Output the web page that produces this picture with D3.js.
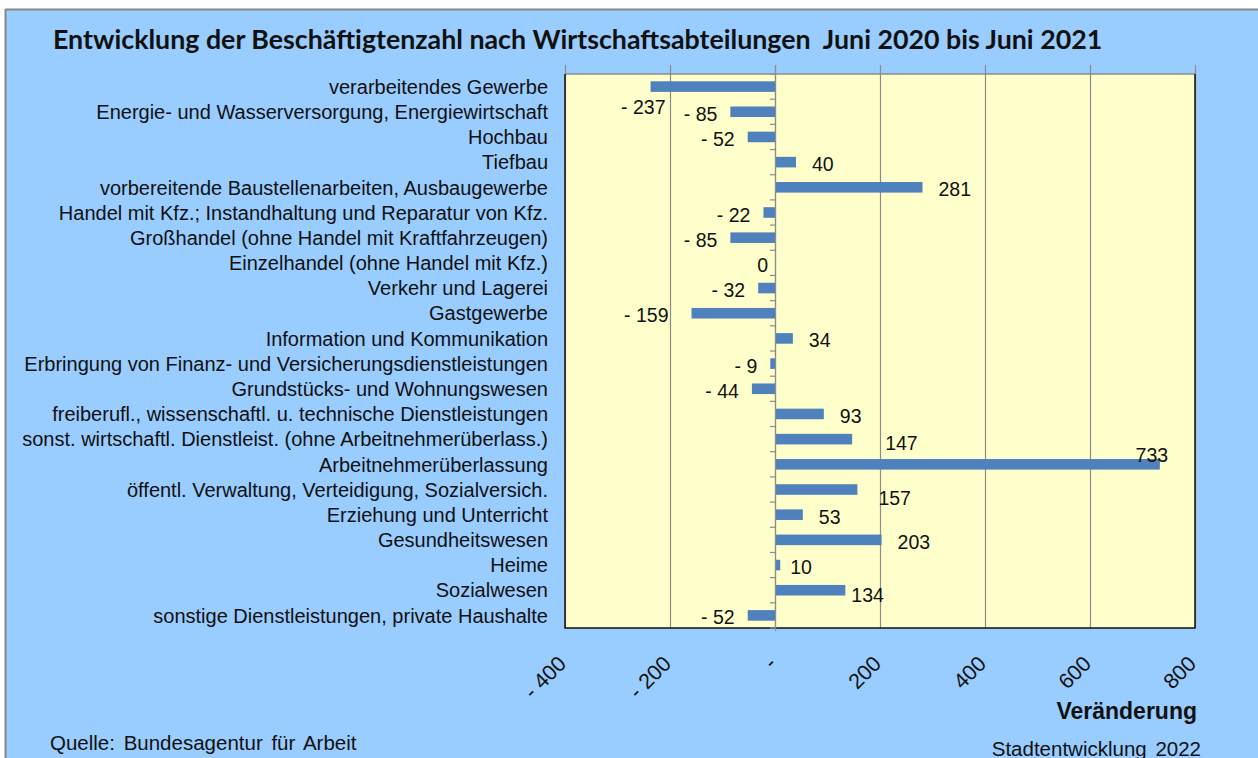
<!DOCTYPE html>
<html lang="de">
<head>
<meta charset="UTF-8">
<title>Beschäftigtenzahl nach Wirtschaftsabteilungen</title>
<script src="https://cdn.jsdelivr.net/npm/d3@7"></script>
<style>
  html, body { margin: 0; padding: 0; background: #fff; }
  svg { display: block; font-family: "Liberation Sans", Arial, sans-serif; }
  .pre { white-space: pre; }
</style>
</head>
<body>
<div id="chart"></div>
<script>
// Wirtschaftsabteilungen (von oben nach unten)
const categories = [
  "verarbeitendes Gewerbe",
  "Energie- und Wasserversorgung, Energiewirtschaft",
  "Hochbau",
  "Tiefbau",
  "vorbereitende Baustellenarbeiten, Ausbaugewerbe",
  "Handel mit Kfz.; Instandhaltung und Reparatur von Kfz.",
  "Großhandel (ohne Handel mit Kraftfahrzeugen)",
  "Einzelhandel (ohne Handel mit Kfz.)",
  "Verkehr und Lagerei",
  "Gastgewerbe",
  "Information und Kommunikation",
  "Erbringung von Finanz- und Versicherungsdienstleistungen",
  "Grundstücks- und Wohnungswesen",
  "freiberufl., wissenschaftl. u. technische Dienstleistungen ",
  "sonst. wirtschaftl. Dienstleist. (ohne Arbeitnehmerüberlass.)",
  "Arbeitnehmerüberlassung",
  "öffentl. Verwaltung, Verteidigung, Sozialversich.",
  "Erziehung und Unterricht",
  "Gesundheitswesen",
  "Heime",
  "Sozialwesen",
  "sonstige Dienstleistungen, private Haushalte"
];
// Veränderung Juni 2020 bis Juni 2021
const changes = [-237, -85, -52, 40, 281, -22, -85, 0, -32, -159, 34, -9, -44, 93, 147, 733, 157, 53, 203, 10, 134, -52];
const xTicks = [-400, -200, 0, 200, 400, 600, 800];

const W = 1258, H = 758;
const plot = { left: 565, right: 1195, top: 74, bottom: 628 };

const svg = d3.select("#chart").append("svg")
  .attr("width", W).attr("height", H);

// Hintergrund
svg.append("rect").attr("x", 0).attr("y", 0).attr("width", W).attr("height", H).attr("fill", "#fff");
svg.append("rect").attr("x", 5).attr("y", 9).attr("width", W - 5).attr("height", H - 9)
  .attr("fill", "#99ccff");
svg.append("line").attr("x1", 5).attr("x2", W).attr("y1", 9.5).attr("y2", 9.5)
  .attr("stroke", "#888").attr("stroke-width", 2);
svg.append("line").attr("x1", 5.5).attr("x2", 5.5).attr("y1", 9).attr("y2", H)
  .attr("stroke", "#888").attr("stroke-width", 2);

const x = d3.scaleLinear().domain([-400, 800]).range([plot.left, plot.right]);
const y = d3.scaleBand().domain(categories).range([plot.top, plot.bottom]).paddingInner(0);

// Plotbereich
svg.append("rect")
  .attr("x", plot.left).attr("y", plot.top)
  .attr("width", plot.right - plot.left).attr("height", plot.bottom - plot.top)
  .attr("fill", "#ffffcc");

// Gitterlinien
svg.append("g").selectAll("line").data(xTicks).join("line")
  .attr("x1", d => x(d) + 0.5).attr("x2", d => x(d) + 0.5)
  .attr("y1", plot.top - 9).attr("y2", plot.bottom)
  .attr("stroke", "#8c8c8c").attr("stroke-width", 1.2);

// Rahmen
svg.append("line").attr("x1", plot.left).attr("x2", plot.right).attr("y1", plot.top).attr("y2", plot.top)
  .attr("stroke", "#8c8c8c").attr("stroke-width", 1.5);
svg.append("path")
  .attr("d", `M${plot.left},${plot.top}V${plot.bottom}H${plot.right}V${plot.top}`)
  .attr("fill", "none").attr("stroke", "#111").attr("stroke-width", 1.5);

// Kategorie-Ticks an der Nulllinie
const bounds = categories.map(c => y(c)).concat([plot.bottom]);
svg.append("g").selectAll("line").data(bounds).join("line")
  .attr("x1", x(0) - 5).attr("x2", x(0))
  .attr("y1", d => d).attr("y2", d => d)
  .attr("stroke", "#8c8c8c").attr("stroke-width", 1.2);

// Balken
const barH = y.bandwidth() * 0.42;
svg.append("g").selectAll("rect").data(categories).join("rect")
  .attr("x", (c, i) => x(Math.min(0, changes[i])))
  .attr("y", c => y(c) + (y.bandwidth() - barH) / 2)
  .attr("width", (c, i) => Math.abs(x(changes[i]) - x(0)))
  .attr("height", barH)
  .attr("fill", "#4f81bd");

// Nulllinie
svg.append("line").attr("x1", x(0) + 0.5).attr("x2", x(0) + 0.5)
  .attr("y1", plot.top - 9).attr("y2", plot.bottom + 3)
  .attr("stroke", "#8c8c8c").attr("stroke-width", 1.2);

// Kategoriebeschriftung
const yAxis = svg.append("g")
  .attr("transform", `translate(${plot.left},0)`)
  .call(d3.axisLeft(y).tickSize(0).tickPadding(17));
yAxis.select(".domain").remove();
yAxis.selectAll("text")
  .attr("font-family", "'Liberation Sans', Arial, sans-serif")
  .attr("font-size", 20).attr("fill", "#111").attr("dy", "0.36em");

// Datenbeschriftung
const fmtVal = v => v < 0 ? "- " + Math.abs(v) : String(v);
// kleine Verschiebungen wie im Original
const nudge = { 0: [28, 18], 9: [-10, 0], 14: [17, 2], 15: [-999, -11], 16: [5, 6], 19: [-6, 0], 20: [-10, 3] };
svg.append("g").selectAll("text").data(categories).join("text")
  .attr("x", (c, i) => {
    const v = changes[i];
    const n = nudge[i];
    if (n && n[0] === -999) return x(v) - 8;
    const base = v > 0 ? x(v) + 16 : x(v) - 13 + (v === 0 ? 6 : 0);
    return base + (n ? (v > 0 ? n[0] : -n[0]) * (v < 0 ? -1 : 1) : 0);
  })
  .attr("y", (c, i) => y(c) + y.bandwidth() / 2 + 2 + (nudge[i] ? nudge[i][1] : 0))
  .attr("dy", "0.36em")
  .attr("text-anchor", (c, i) => {
    const n = nudge[i];
    if (n && n[0] === -999) return "middle";
    return changes[i] > 0 ? "start" : "end";
  })
  .attr("font-size", 19.5).attr("fill", "#111")
  .text((c, i) => fmtVal(changes[i]));

// x-Achse (gedrehte Beschriftung)
const fmtTick = v => v < 0 ? "- " + Math.abs(v) : (v === 0 ? "-" : String(v));
const xAxis = svg.append("g")
  .attr("transform", `translate(0,${plot.bottom})`)
  .call(d3.axisBottom(x).tickValues(xTicks).tickFormat(fmtTick).tickSize(0));
xAxis.select(".domain").remove();
xAxis.selectAll("text")
  .attr("font-family", "'Liberation Sans', Arial, sans-serif")
  .attr("font-size", 21.5).attr("fill", "#111")
  .attr("text-anchor", "end")
  .attr("y", 0).attr("dy", 0)
  .attr("transform", "translate(2,37) rotate(-45)");

// Achsentitel
svg.append("text").attr("x", 1197).attr("y", 719).attr("text-anchor", "end")
  .attr("font-size", 23).attr("font-weight", "bold").attr("fill", "#111")
  .text("Veränderung");

// Titel
const title = svg.append("text").attr("class", "pre").attr("x", 53).attr("y", 49)
  .attr("font-family", "Lato, 'Open Sans', sans-serif")
  .attr("font-size", 23).attr("font-weight", "bold").attr("fill", "#111")
  .text("Entwicklung der Beschäftigtenzahl nach Wirtschaftsabteilungen  Juni 2020 bis Juni 2021");
const tw = title.node().getComputedTextLength();
title.attr("font-size", 23 * 1050 / tw);

// Quelle / Fußzeile
svg.append("text").attr("x", 50).attr("y", 750)
  .attr("font-size", 20.5).attr("fill", "#111").attr("word-spacing", 3)
  .text("Quelle: Bundesagentur für Arbeit");
svg.append("text").attr("x", 1201).attr("y", 756).attr("text-anchor", "end")
  .attr("font-size", 20.5).attr("fill", "#111").attr("word-spacing", 3)
  .text("Stadtentwicklung 2022");
</script>
</body>
</html>
